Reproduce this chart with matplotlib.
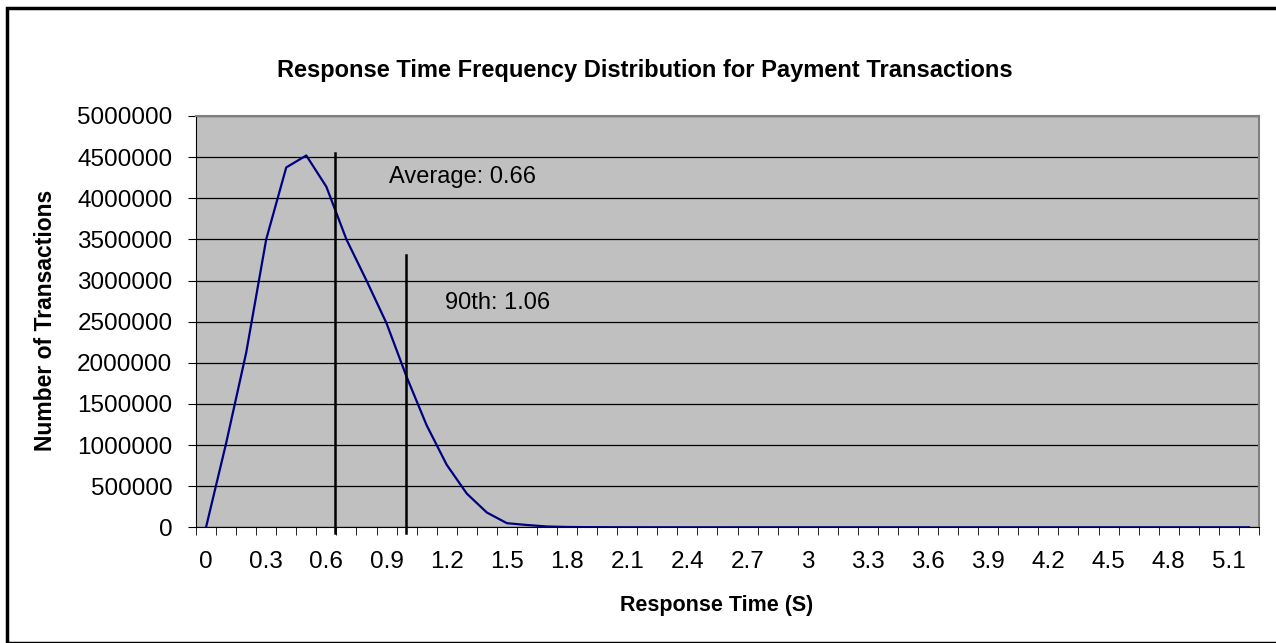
import numpy as np
import matplotlib
matplotlib.use('Agg')
import matplotlib.pyplot as plt
import matplotlib.patches as patches

plt.rcParams['font.family'] = ['Liberation Sans', 'DejaVu Sans']

# response time buckets (s) and transaction counts
resp_time = [round(0.1 * i, 1) for i in range(53)]
counts = [0, 1020000, 2120000, 3500000, 4375000, 4520000, 4140000, 3500000,
          3000000, 2480000, 1830000, 1240000, 760000, 410000, 180000, 50000,
          28000, 10000, 4000, 2000, 1000, 500, 300, 200, 100, 100, 0, 0, 0, 0,
          0, 0, 0, 0, 0, 0, 0, 0, 0, 0, 0, 0, 0, 0, 0, 0, 0, 0, 0, 0, 0, 0, 0]
tick_labels = ['0', '0.3', '0.6', '0.9', '1.2', '1.5', '1.8', '2.1', '2.4', '2.7',
               '3', '3.3', '3.6', '3.9', '4.2', '4.5', '4.8', '5.1']

# marker lines (category position, top) and their labels
marker_x = [6.43, 9.95]
marker_top = [4550000, 3310000]
marker_text = ['Average: 0.66', '90th: 1.06']

fig = plt.figure(figsize=(12.76, 6.43), dpi=100)
fig.patches.append(patches.Rectangle((7/1276, 0), 1.0, 1 - 8/643, transform=fig.transFigure,
                                     fill=False, edgecolor='black', linewidth=2.5))
ax = fig.add_axes([196/1276, 1 - 527.3/643, (1259 - 196)/1276, (527.3 - 116)/643])
ax.set_facecolor('#c0c0c0')

idx = np.arange(len(resp_time))
ax.plot(idx, counts, color='#000080', linewidth=1.6, zorder=3)

for x, top in zip(marker_x, marker_top):
    ax.plot([x, x], [-70000, top], color='black', linewidth=1.8, clip_on=False, zorder=4)

ax.text(9.1, 4260000, marker_text[0], fontsize=17, va='center', ha='left')
ax.text(11.9, 2730000, marker_text[1], fontsize=17, va='center', ha='left')

ax.set_xlim(-0.5, len(resp_time) - 0.5)
ax.set_ylim(0, 5000000)
ax.set_yticks(np.arange(0, 5000001, 500000))
ax.set_yticklabels([str(v) for v in range(0, 5000001, 500000)], fontsize=17.5)
ax.yaxis.grid(True, color='black', linewidth=0.9)
ax.set_axisbelow(True)

ax.set_xticks(idx[::3])
ax.set_xticklabels(tick_labels, fontsize=17.5)
ax.set_xticks(np.arange(-0.5, len(resp_time), 1), minor=True)
ax.tick_params(axis='x', which='major', length=0, pad=17)
ax.tick_params(axis='x', which='minor', length=6, direction='out', color='black')
ax.tick_params(axis='y', length=6, direction='out', pad=11)

for s in ['top', 'right']:
    ax.spines[s].set_color('#808080')
    ax.spines[s].set_linewidth(1.5)
ax.spines['left'].set_color('black')
ax.spines['bottom'].set_color('black')

fig.text(645/1276, 1 - 71/643, 'Response Time Frequency Distribution for Payment Transactions',
         fontsize=17, fontweight='bold', ha='center', va='center')
fig.text(717/1276, 1 - 605/643, 'Response Time (S)', fontsize=15.5, fontweight='bold',
         ha='center', va='center')
fig.text(46/1276, 1 - 320/643, 'Number of Transactions', fontsize=16.5, fontweight='bold',
         ha='center', va='center', rotation=90)

fig.savefig('out.png', dpi=100)
